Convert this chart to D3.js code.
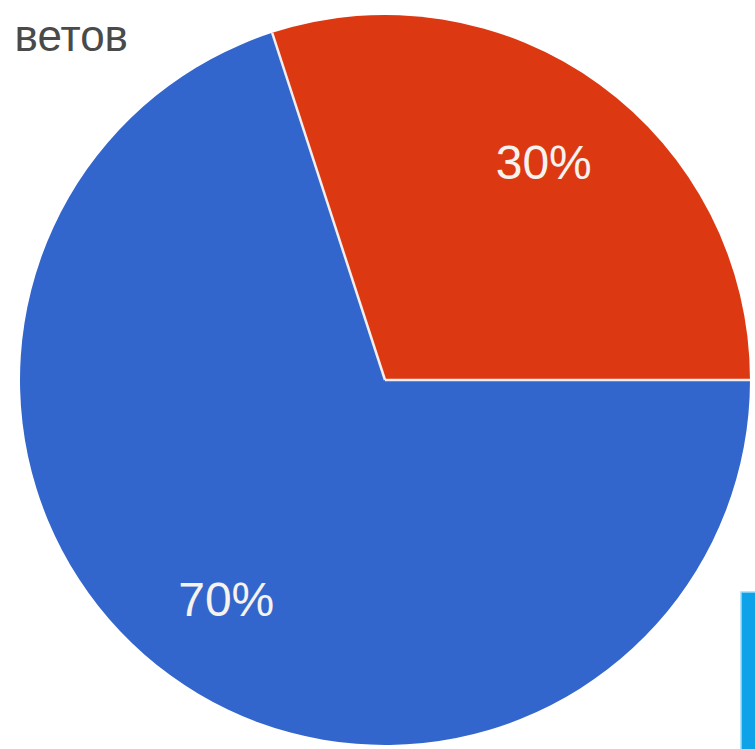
<!DOCTYPE html>
<html>
<head>
<meta charset="utf-8">
<script src="https://cdn.jsdelivr.net/npm/d3@7"></script>
<style>
html,body{margin:0;padding:0;background:#fff;overflow:hidden;}
</style>
</head>
<body>
<script>
const categories = ["Вариант 1", "Вариант 2"];
const values = [30, 70];
const labels = ["30%", "70%"];
const colors = ["#dc3912", "#3366cc"];
const titleText = "ветов";

const W = 755, H = 749;
const cx = 385, cy = 380, R = 365;

const svg = d3.select("body").append("svg").attr("width", W).attr("height", H);

const pie = d3.pie().sort(null).value(d => d)
  .startAngle(-0.05 * 2 * Math.PI).endAngle(0.95 * 2 * Math.PI);
const arcs = pie(values);
const arc = d3.arc().innerRadius(0).outerRadius(R);
const labelArc = d3.arc().innerRadius(R * 0.74).outerRadius(R * 0.74);

const g = svg.append("g").attr("transform", `translate(${cx},${cy})`);
g.selectAll("path").data(arcs).enter().append("path")
  .attr("d", arc)
  .attr("fill", (d, i) => colors[i]);

// separators between slices
g.selectAll("line.sep").data(arcs).enter().append("line")
  .attr("class", "sep")
  .attr("x1", 0).attr("y1", 0)
  .attr("x2", d => R * Math.sin(d.startAngle))
  .attr("y2", d => -R * Math.cos(d.startAngle))
  .attr("stroke", "#f4eeee")
  .attr("stroke-width", 2.5);

g.selectAll("text.lbl").data(arcs).enter().append("text")
  .attr("class", "lbl")
  .attr("transform", d => `translate(${labelArc.centroid(d)})`)
  .attr("text-anchor", "middle")
  .attr("dy", "0.36em")
  .attr("fill", "#f6f2ee")
  .attr("font-family", "Liberation Sans, Arial, sans-serif")
  .attr("font-size", 48)
  .text((d, i) => labels[i]);

svg.append("text")
  .attr("x", 128).attr("y", 51)
  .attr("text-anchor", "end")
  .attr("fill", "#4a4a4a")
  .attr("font-family", "Liberation Sans, Arial, sans-serif")
  .attr("font-size", 44)
  .text(titleText);

svg.append("rect")
  .attr("x", 741).attr("y", 592).attr("width", 20).attr("height", 160)
  .attr("fill", "#0ea2e8")
  .attr("stroke", "#9fdcf7").attr("stroke-width", 1.5);
</script>
</body>
</html>
